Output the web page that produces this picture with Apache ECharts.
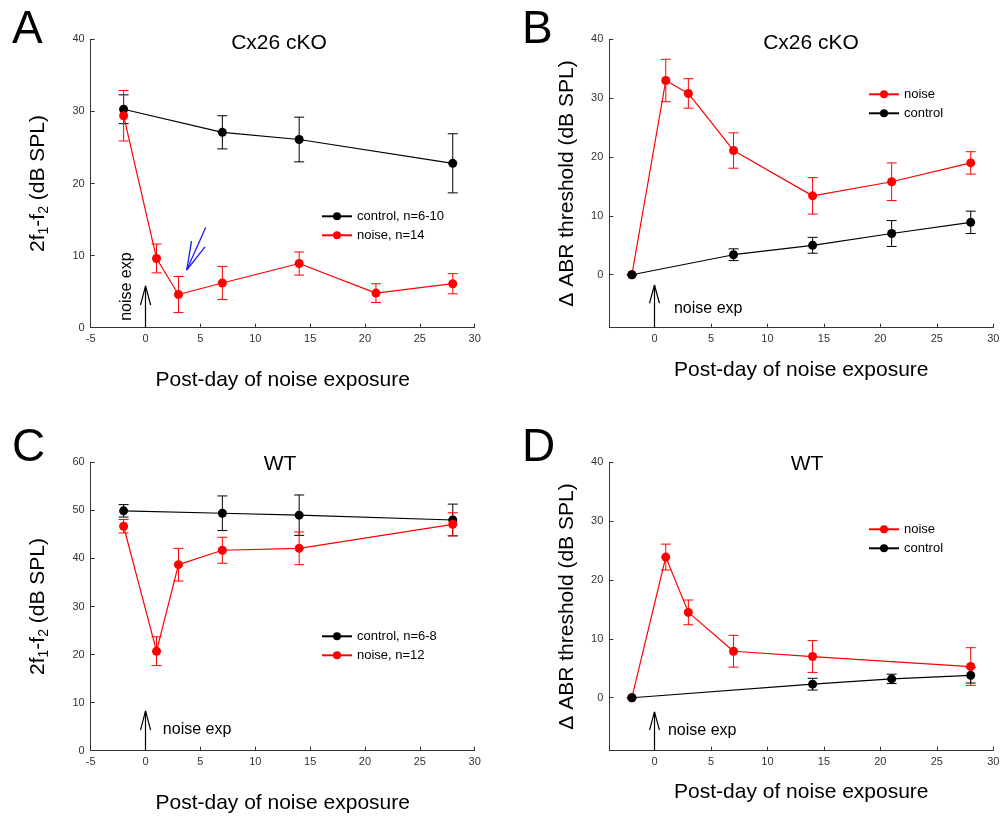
<!DOCTYPE html>
<html>
<head>
<meta charset="utf-8">
<script src="https://cdn.jsdelivr.net/npm/echarts@6/dist/echarts.min.js"></script>
<style>
html, body { margin: 0; padding: 0; background: #fff; }
#chart { width: 1002px; height: 819px; }
</style>
</head>
<body>
<div id="chart"></div>
<script>
// ---- values ----
// A: Cx26 cKO, 2f1-f2
const daysCtrlA = [-2, 7, 14, 28];
const ctrlA = [30.3, 27.1, 26.1, 22.8];
const ctrlErrA = [2.0, 2.3, 3.1, 4.1];
const daysNoiseA = [-2, 1, 3, 7, 14, 21, 28];
const noiseA = [29.4, 9.6, 4.6, 6.2, 8.9, 4.8, 6.1];
const noiseErrA = [3.5, 2.0, 2.5, 2.3, 1.6, 1.3, 1.4];

// B: Cx26 cKO, ABR threshold shift
const daysNoiseB = [-2, 1, 3, 7, 14, 21, 28];
const noiseB = [0, 33.0, 30.8, 21.1, 13.4, 15.8, 19.0];
const noiseErrB = [0, 3.6, 2.5, 3.0, 3.1, 3.2, 1.9];
const daysCtrlB = [-2, 7, 14, 21, 28];
const ctrlB = [0, 3.4, 5.0, 7.0, 8.9];
const ctrlErrB = [0, 1.0, 1.35, 2.2, 1.9];

// C: WT, 2f1-f2
const daysCtrlC = [-2, 7, 14, 28];
const ctrlC = [49.9, 49.4, 49.0, 48.0];
const ctrlErrC = [1.3, 3.6, 4.2, 3.3];
const daysNoiseC = [-2, 1, 3, 7, 14, 28];
const noiseC = [46.7, 20.7, 38.7, 41.7, 42.1, 47.1];
const noiseErrC = [1.4, 3.0, 3.4, 2.7, 3.4, 2.4];

// D: WT, ABR threshold shift
const daysNoiseD = [-2, 1, 3, 7, 14, 28];
const noiseD = [0, 23.9, 14.5, 7.9, 7.0, 5.3];
const noiseErrD = [0, 2.2, 2.1, 2.7, 2.7, 3.2];
const daysCtrlD = [-2, 14, 21, 28];
const ctrlD = [0, 2.3, 3.2, 3.8];
const ctrlErrD = [0, 1.0, 0.8, 1.3];

// tick labels
const ticksXA = [-5, 0, 5, 10, 15, 20, 25, 30];
const ticksXB = [0, 5, 10, 15, 20, 25, 30];
const ticksY40 = [0, 10, 20, 30, 40];
const ticksY60 = [0, 10, 20, 30, 40, 50, 60];

const FONT = "'Liberation Sans', Arial, sans-serif";
const RED = '#ff0000';
const BLACK = '#000000';

function zip(xs, ys) {
  return xs.map((x, i) => [x, ys[i]]);
}

function xAx(grid, min, ticks, gap) {
  return {
    type: 'value', gridIndex: grid, min: min, max: 30,
    axisLine: {onZero: false, lineStyle: {color: '#333', width: 1}},
    axisTick: {inside: true, length: 4, customValues: ticks, lineStyle: {color: '#333'}},
    axisLabel: {customValues: ticks, margin: 6, fontSize: 11, color: '#333', fontFamily: FONT},
    splitLine: {show: false},
    name: 'Post-day of noise exposure', nameLocation: 'middle', nameGap: gap,
    nameTextStyle: {fontSize: 21, color: '#000', fontFamily: FONT}
  };
}

function yAx(grid, min, max, ticks, name, gap, rich) {
  return {
    type: 'value', gridIndex: grid, min: min, max: max,
    axisLine: {onZero: false, lineStyle: {color: '#333', width: 1}},
    axisTick: {inside: true, length: 4, customValues: ticks, lineStyle: {color: '#333'}},
    axisLabel: {customValues: ticks, margin: 6, fontSize: 11, color: '#333', fontFamily: FONT},
    splitLine: {show: false},
    name: name, nameLocation: 'middle', nameGap: gap,
    nameTextStyle: {fontSize: 21, color: '#000', fontFamily: FONT, rich: rich}
  };
}

const dpRich = {
  m: {fontSize: 21, lineHeight: 24, fontFamily: FONT, color: '#000'},
  s: {fontSize: 14, lineHeight: 14, verticalAlign: 'bottom', fontFamily: FONT, color: '#000'}
};
const dpName = '{m|2f}{s|1}{m|-f}{s|2}{m| (dB SPL)}';

function lineSeries(grid, name, days, vals, color, extra) {
  return Object.assign({
    type: 'line', name: name, xAxisIndex: grid, yAxisIndex: grid,
    data: zip(days, vals),
    symbol: 'circle', symbolSize: 9,
    lineStyle: {color: color, width: 1.2},
    itemStyle: {color: color},
    color: color,
    z: 3
  }, extra || {});
}

function errSeries(grid, days, vals, errs, color) {
  return {
    type: 'custom', xAxisIndex: grid, yAxisIndex: grid, z: 2,
    data: days.map((d, i) => [d, vals[i] - errs[i], vals[i] + errs[i]]),
    renderItem: function (params, api) {
      const lo = api.coord([api.value(0), api.value(1)]);
      const hi = api.coord([api.value(0), api.value(2)]);
      const w = 5;
      const st = {stroke: color, lineWidth: 1};
      return {
        type: 'group',
        children: [
          {type: 'line', shape: {x1: lo[0], y1: lo[1], x2: hi[0], y2: hi[1]}, style: st},
          {type: 'line', shape: {x1: lo[0] - w, y1: lo[1], x2: lo[0] + w, y2: lo[1]}, style: st},
          {type: 'line', shape: {x1: hi[0] - w, y1: hi[1], x2: hi[0] + w, y2: hi[1]}, style: st}
        ]
      };
    }
  };
}

// "noise exp" arrow at day 0: shaft from y0 to tip, open head
function arrow(y0, tip, headY, hw) {
  return [
    [{coord: [0, y0]}, {coord: [0, tip]}],
    [{coord: [-hw, headY]}, {coord: [0, tip]}],
    [{coord: [hw, headY]}, {coord: [0, tip]}]
  ];
}

function annot(lines, color, width) {
  return {
    silent: true, symbol: ['none', 'none'], animation: false,
    label: {show: false}, emphasis: {disabled: true},
    lineStyle: {color: color, width: width, type: 'solid'},
    data: lines
  };
}

function noteText(x, y, rotate) {
  return {
    silent: true, animation: false,
    symbol: 'circle', symbolSize: 1, itemStyle: {color: 'rgba(0,0,0,0)'},
    label: {
      show: true, formatter: 'noise exp', fontSize: 16, color: '#000', fontFamily: FONT,
      position: rotate ? 'inside' : 'right', distance: 0, rotate: rotate || 0
    },
    data: [{coord: [x, y]}]
  };
}

// blue arrow in panel A
const blueArrow = [
  [{coord: [5.48, 13.9]}, {coord: [3.75, 8.0]}],
  [{coord: [4.19, 12.0]}, {coord: [3.75, 8.0]}],
  [{coord: [5.42, 11.2]}, {coord: [3.75, 8.0]}]
];

const grids = [
  {left: 90.7, top: 39.3, width: 384, height: 288.4},
  {left: 609.3, top: 39.3, width: 384, height: 288.4},
  {left: 90.7, top: 462.3, width: 384, height: 288.4},
  {left: 609.3, top: 462.3, width: 384, height: 288.4}
].map(g => Object.assign(g, {outerBoundsMode: 'none', containLabel: false}));

function legendAt(left, top, names) {
  return {
    left: left, top: top, orient: 'vertical', padding: 0,
    itemWidth: 30, itemHeight: 10, itemGap: 5, selectedMode: false,
    textStyle: {fontSize: 13, lineHeight: 14, color: '#000', fontFamily: FONT},
    data: names
  };
}

const titleStyle = {fontSize: 21, fontWeight: 'normal', color: '#000', fontFamily: FONT};
const letterStyle = {fontSize: 46, fontWeight: 'normal', color: '#000', fontFamily: FONT};

const option = {
  animation: false,
  backgroundColor: '#fff',
  title: [
    {text: 'A', left: 12, top: 7, padding: 0, textStyle: letterStyle},
    {text: 'B', left: 522, top: 7, padding: 0, textStyle: letterStyle},
    {text: 'C', left: 12, top: 425, padding: 0, textStyle: letterStyle},
    {text: 'D', left: 522, top: 425, padding: 0, textStyle: letterStyle},
    {text: 'Cx26 cKO', left: 279, top: 33, padding: 0, textAlign: 'center', textStyle: titleStyle},
    {text: 'Cx26 cKO', left: 811, top: 33, padding: 0, textAlign: 'center', textStyle: titleStyle},
    {text: 'WT', left: 280, top: 454, padding: 0, textAlign: 'center', textStyle: titleStyle},
    {text: 'WT', left: 807, top: 454, padding: 0, textAlign: 'center', textStyle: titleStyle}
  ],
  legend: [
    legendAt(321, 209.3, ['control, n=6-10', 'noise, n=14']),
    legendAt(868, 87.3, ['noise', 'control']),
    legendAt(321, 629.3, ['control, n=6-8', 'noise, n=12']),
    legendAt(868, 522.3, ['noise', 'control'])
  ],
  grid: grids,
  xAxis: [
    xAx(0, -5, ticksXA, 42),
    xAx(1, -4, ticksXB, 32),
    xAx(2, -5, ticksXA, 42),
    xAx(3, -4, ticksXB, 31)
  ],
  yAxis: [
    yAx(0, 0, 40, ticksY40, dpName, 40, dpRich),
    yAx(1, -9, 40, ticksY40, 'Δ ABR threshold (dB SPL)', 32),
    yAx(2, 0, 60, ticksY60, dpName, 40, dpRich),
    yAx(3, -9, 40, ticksY40, 'Δ ABR threshold (dB SPL)', 32)
  ],
  series: [
    // A
    errSeries(0, daysCtrlA, ctrlA, ctrlErrA, BLACK),
    lineSeries(0, 'control, n=6-10', daysCtrlA, ctrlA, BLACK, {
      markLine: annot(arrow(0, 5.8, 3.15, 0.46), '#000', 1.2),
      markPoint: noteText(-1.69, 5.7, 90)
    }),
    errSeries(0, daysNoiseA, noiseA, noiseErrA, RED),
    lineSeries(0, 'noise, n=14', daysNoiseA, noiseA, RED, {
      markLine: annot(blueArrow, '#1a1aff', 1.3)
    }),
    // B
    errSeries(1, daysNoiseB, noiseB, noiseErrB, RED),
    lineSeries(1, 'noise', daysNoiseB, noiseB, RED),
    errSeries(1, daysCtrlB, ctrlB, ctrlErrB, BLACK),
    lineSeries(1, 'control', daysCtrlB, ctrlB, BLACK, {
      markLine: annot(arrow(-9, -1.75, -4.85, 0.44), '#000', 1.2),
      markPoint: noteText(1.68, -5.7)
    }),
    // C
    errSeries(2, daysCtrlC, ctrlC, ctrlErrC, BLACK),
    lineSeries(2, 'control, n=6-8', daysCtrlC, ctrlC, BLACK, {
      markLine: annot(arrow(0, 8.3, 4.3, 0.46), '#000', 1.2),
      markPoint: noteText(1.53, 4.3)
    }),
    errSeries(2, daysNoiseC, noiseC, noiseErrC, RED),
    lineSeries(2, 'noise, n=12', daysNoiseC, noiseC, RED),
    // D
    errSeries(3, daysNoiseD, noiseD, noiseErrD, RED),
    lineSeries(3, 'noise', daysNoiseD, noiseD, RED),
    errSeries(3, daysCtrlD, ctrlD, ctrlErrD, BLACK),
    lineSeries(3, 'control', daysCtrlD, ctrlD, BLACK, {
      markLine: annot(arrow(-9, -2.4, -5.5, 0.44), '#000', 1.2),
      markPoint: noteText(1.15, -5.66)
    })
  ]
};

const chart = echarts.init(document.getElementById('chart'), null, {renderer: 'canvas'});
chart.setOption(option);
</script>
</body>
</html>
